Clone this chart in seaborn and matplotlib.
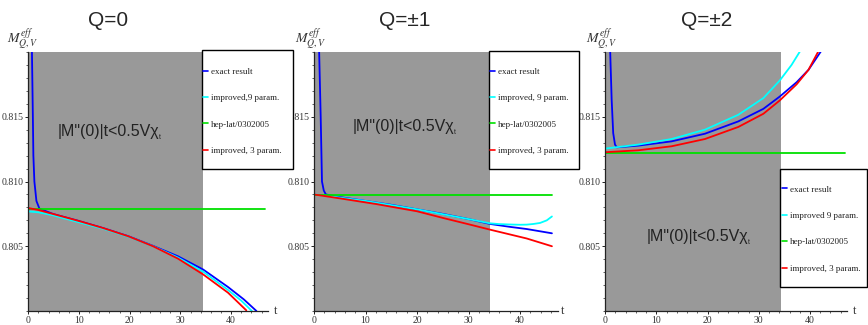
import numpy as np
import pandas as pd
import matplotlib
matplotlib.use('Agg')
import matplotlib.pyplot as plt
from matplotlib.patches import Rectangle
from matplotlib.lines import Line2D
from matplotlib.ticker import MultipleLocator, FixedLocator
import seaborn as sns

# ---- data ----
curve_names = ['exact', 'improved9', 'heplat', 'improved3']

# Q=0
q0_exact_t = [0.72, 0.9, 1.0, 1.2, 1.6, 2.2, 4.9, 9.8, 14.7, 19.7, 24.6, 29.5, 34.5, 39.4, 42.5, 45.0]
q0_exact_m = [0.8200, 0.8150, 0.8120, 0.8100, 0.8085, 0.8079, 0.80749, 0.80697, 0.80641, 0.80578,
              0.80503, 0.80423, 0.80320, 0.80185, 0.8009, 0.8000]
q0_imp9_t = [0, 2, 4.9, 9.8, 14.7, 19.7, 24.6, 29.5, 34.5, 39.4, 42.0, 44.1]
q0_imp9_m = [0.80769, 0.80762, 0.80739, 0.80687, 0.80636, 0.80574, 0.80500, 0.80413, 0.80303, 0.80162,
             0.8008, 0.8000]
q0_hep_t = [0, 46.7]
q0_hep_m = [0.8079, 0.8079]
q0_imp3_t = [0, 2, 4.9, 9.8, 14.7, 19.7, 24.6, 29.5, 34.5, 39.4, 43.0]
q0_imp3_m = [0.80795, 0.80780, 0.80749, 0.80697, 0.80641, 0.80577, 0.80500, 0.80405, 0.80282, 0.80141,
             0.80005]

# Q=+-1
q1_exact_t = [1.0, 1.3, 1.55, 1.9, 2.3, 5, 10, 15, 20, 25, 30, 34.2, 38, 41.3, 46.2]
q1_exact_m = [0.8200, 0.8150, 0.8100, 0.8093, 0.8090, 0.8088, 0.8085, 0.8082, 0.80785, 0.8075,
              0.8071, 0.80672, 0.8065, 0.80633, 0.8060]
q1_imp9_t = [0, 2.3, 10, 20, 30, 34.2, 36, 38, 40, 41.3, 42.6, 43.9, 45.2, 46.2]
q1_imp9_m = [0.8090, 0.8089, 0.8085, 0.80785, 0.8071, 0.80677, 0.80671, 0.80668, 0.80666, 0.80667,
             0.80672, 0.80680, 0.8070, 0.8073]
q1_hep_t = [0, 46.2]
q1_hep_m = [0.80898, 0.80898]
q1_imp3_t = [0, 5, 12.2, 20, 25.1, 30, 34.2, 41.3, 46.2]
q1_imp3_m = [0.8090, 0.8087, 0.80825, 0.8077, 0.80718, 0.8067, 0.80628, 0.8056, 0.8050]

# Q=+-2
q2_exact_t = [1.0, 1.3, 1.6, 1.95, 2.3, 6.5, 13.0, 19.5, 26.0, 30.9, 34.1, 37.4, 39.7, 42.1]
q2_exact_m = [0.8202, 0.81631, 0.81374, 0.81285, 0.81264, 0.81277, 0.81310, 0.81369, 0.81464, 0.81561,
              0.81656, 0.81767, 0.81862, 0.82003]
q2_imp9_t = [0, 6.5, 13.0, 19.5, 26.0, 30.9, 34.1, 36.4, 38.2]
q2_imp9_m = [0.81254, 0.81285, 0.81328, 0.81400, 0.81515, 0.81644, 0.81780, 0.81900, 0.82015]
q2_hep_t = [0, 46.8]
q2_hep_m = [0.81222, 0.81222]
q2_imp3_t = [0, 6.5, 13.0, 19.5, 26.0, 30.9, 34.1, 37.4, 39.7, 41.6]
q2_imp3_m = [0.81226, 0.81241, 0.81272, 0.81328, 0.81421, 0.81523, 0.81626, 0.81751, 0.81862, 0.82003]

titles = ['Q=0', 'Q=\u00b11', 'Q=\u00b12']
gray_end = [34.4, 34.2, 34.3]
legend_labels = [
    ['exact result', 'improved,9 param.', 'hep-lat/0302005', 'improved, 3 param.'],
    ['exact result', 'improved, 9 param.', 'hep-lat/0302005', 'improved, 3 param.'],
    ['exact result', 'improved 9 param.', 'hep-lat/0302005', 'improved, 3 param.'],
]
y_ticks = [0.805, 0.810, 0.815]
x_ticks = [0, 10, 20, 30, 40]

palette = {'exact': '#0000ff', 'improved9': '#00ffff', 'heplat': '#00e000', 'improved3': '#ff0000'}

panels = [
    [(q0_exact_t, q0_exact_m), (q0_imp9_t, q0_imp9_m), (q0_hep_t, q0_hep_m), (q0_imp3_t, q0_imp3_m)],
    [(q1_exact_t, q1_exact_m), (q1_imp9_t, q1_imp9_m), (q1_hep_t, q1_hep_m), (q1_imp3_t, q1_imp3_m)],
    [(q2_exact_t, q2_exact_m), (q2_imp9_t, q2_imp9_m), (q2_hep_t, q2_hep_m), (q2_imp3_t, q2_imp3_m)],
]

sns.set_style('ticks')
plt.rcParams['font.family'] = ['Liberation Serif', 'DejaVu Serif']
plt.rcParams['mathtext.fontset'] = 'stix'

W, H = 868, 325
fig = plt.figure(figsize=(8.68, 3.25), dpi=100)

# layout in pixels: left edge, px per unit t
ax_left = [28.3, 314, 605]
px_per_t = [5.07, 5.15, 5.125]
xmax = 47.3
top_px, bot_px = 52, 311
title_x = [108, 405, 707]
ylab_x = [23, 311, 602]
t_lab_x = [274, 561, 853]
note_xy = [(108, 132), (403, 127), (697, 237)]
leg_box = [(202, 50, 293, 169), (489, 51, 579, 169), (780, 169, 867, 287)]
leg_anchor = [(203, 111.3), (490, 111.3), (782, 229)]


def fx(px):
    return px / W


def fy(py):
    return 1 - py / H


for i in range(3):
    width = xmax * px_per_t[i]
    ax = fig.add_axes([fx(ax_left[i]), fy(bot_px), width / W, (bot_px - top_px) / H])

    frames = []
    for name, (t, m) in zip(curve_names, panels[i]):
        frames.append(pd.DataFrame({'t': t, 'M': m, 'curve': name}))
    df = pd.concat(frames, ignore_index=True)

    ax.axvspan(0, gray_end[i], color='#999999', lw=0, zorder=0)
    sns.lineplot(data=df, x='t', y='M', hue='curve', hue_order=curve_names, palette=palette,
                 estimator=None, sort=False, legend=False, lw=1.3, ax=ax)

    ax.set_xlim(0, xmax)
    ax.set_ylim(0.800, 0.820)
    ax.set_xlabel('')
    ax.set_ylabel('')
    ax.set_facecolor('none')
    for s in ['top', 'right']:
        ax.spines[s].set_visible(False)
    for s in ['left', 'bottom']:
        ax.spines[s].set_color('#222222')
        ax.spines[s].set_linewidth(0.9)

    ax.yaxis.set_major_locator(FixedLocator(y_ticks))
    ax.yaxis.set_minor_locator(MultipleLocator(0.001))
    ax.xaxis.set_major_locator(FixedLocator(x_ticks))
    ax.xaxis.set_minor_locator(MultipleLocator(2))
    ax.set_yticklabels(['%.3f' % v for v in y_ticks])
    ax.tick_params(axis='both', which='major', direction='out', length=2.0, width=0.7,
                   labelsize=7, labelcolor='#333333', color='#222222')
    ax.tick_params(axis='both', which='minor', direction='out', length=1.2, width=0.5, color='#222222')
    ax.tick_params(axis='y', which='major', pad=1.2)
    ax.tick_params(axis='x', which='major', pad=1.5)

    # titles and axis labels
    fig.text(fx(title_x[i]), fy(20), titles[i], ha='center', va='center', fontsize=15,
             family=['Liberation Sans', 'DejaVu Sans'])
    fig.text(fx(ylab_x[i]), fy(39), r'$M_{Q,V}^{eff}$', ha='center', va='center', fontsize=10,
             color='#333333')
    fig.text(fx(t_lab_x[i]), fy(311), 't', ha='left', va='center', fontsize=9, color='#333333')

    # annotation on the grey band
    nx, ny = note_xy[i]
    note = fig.text(fx(nx), fy(ny), '|M"(0)|t<0.5V\u03c7', ha='center', va='center', fontsize=11.5,
                    family=['Liberation Sans', 'DejaVu Sans'], color='#222222')
    ax.annotate('t', xy=(1, 0.12), xycoords=note, xytext=(0.3, 0), textcoords='offset points',
                fontsize=5, ha='left', va='center', family=['Liberation Sans', 'DejaVu Sans'],
                color='#222222')

    # legend box
    x0, y0, x1, y1 = leg_box[i]
    rect = Rectangle((fx(x0), fy(y1)), (x1 - x0) / W, (y1 - y0) / H, transform=fig.transFigure,
                     facecolor='white', edgecolor='black', lw=1.0, zorder=5)
    fig.add_artist(rect)
    handles = [Line2D([], [], color=palette[n], lw=1.2) for n in curve_names]
    lx, ly = leg_anchor[i]
    leg = fig.legend(handles, legend_labels[i], loc='center left', bbox_to_anchor=(fx(lx), fy(ly)),
                     frameon=False, fontsize=6.5, handlelength=0.6, handletextpad=0.25,
                     labelspacing=2.0, borderpad=0, borderaxespad=0)
    leg.set_zorder(6)
    for txt in leg.get_texts():
        txt.set_color('#222222')

fig.savefig('out.png', dpi=100)
